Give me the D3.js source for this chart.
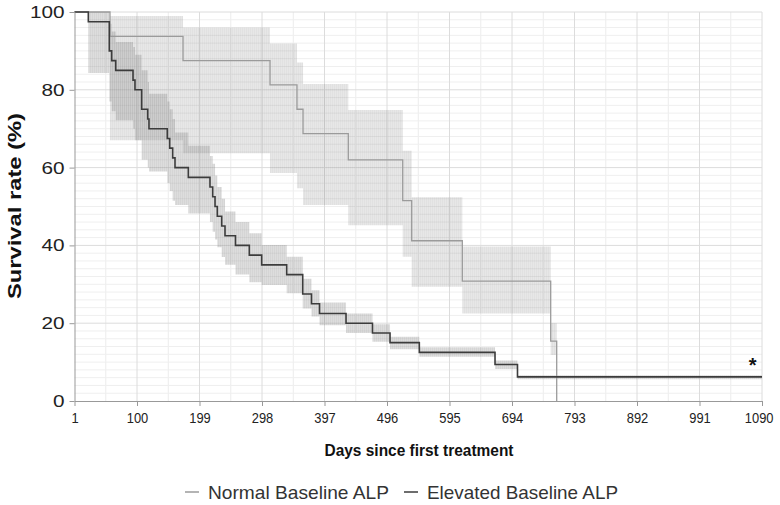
<!DOCTYPE html>
<html>
<head>
<meta charset="utf-8">
<script src="https://cdn.jsdelivr.net/npm/d3@7"></script>
<style>
  html, body { margin: 0; padding: 0; background: #fff; overflow: hidden; }
  svg { display: block; }
</style>
</head>
<body>
<svg id="chart" width="780" height="505"></svg>
<script>
// ---------------- data ----------------
const xTicks = [1, 100, 199, 298, 397, 496, 595, 694, 793, 892, 991, 1090];
const yTicks = [0, 20, 40, 60, 80, 100];

// Normal baseline ALP (Kaplan–Meier step curve + 95% CI)
const normalDays = [1, 57.2, 172.9, 310.7, 353.4, 363.0, 434.7, 520.9, 535.1, 615.3, 755.3, 764.8];
const normalSurv = [100, 93.75, 87.5, 81.25, 75, 68.75, 62, 51.5, 41.2, 30.8, 15.4, 0];
const normalLow  = [100, 67, 63.7, 58.6, 54.7, 50.4, 45.2, 37.1, 29.4, 22.5, 11.8, 0];
const normalUp   = [100, 99, 96, 91.9, 87, 81.5, 74.8, 64.3, 52.4, 39.7, 20, 0];

// Elevated baseline ALP
const elevDays = [1, 22.9, 56.1, 59.9, 66.3, 93.7, 96.8, 107.4, 117.0, 119.0, 148.0, 151.8, 156.5, 160.2, 181.3,
                  215.6, 219.9, 223.6, 227.2, 234.2, 239.4, 256.0, 277.9, 297.5, 337.1, 362.5, 376.4, 389.1, 431.1,
                  473.0, 500.8, 547.2, 667.1, 702.7, 1090];
const elevSurv = [100, 97.5, 90, 87.5, 85, 82.5, 80, 75, 72.5, 70, 67.5, 65, 62.5, 60, 57.5,
                  55, 52.5, 50, 47.5, 45, 42.5, 40, 37.5, 35, 32.5, 27.5, 25, 22.5, 20,
                  17.5, 15, 12.5, 9.4, 6.2, 6.2];
const elevLow  = [100, 84.3, 77, 74.5, 72.2, 70, 67, 62, 60, 59, 56, 54, 51.5, 50.4, 48.2,
                  46, 43.5, 41.5, 39.5, 37, 35, 32.5, 30.5, 29.8, 27.7, 23.8, 21.7, 19.5, 17.5,
                  15.2, 13.3, 11.4, 8.2, 5.6, 5.6];
const elevUp   = [100, 100, 97, 95, 92.3, 91, 89, 85, 82, 79, 77, 75, 72.5, 69, 65.6,
                  63, 61, 58, 55, 52, 48.7, 46, 43.1, 40.1, 37.1, 31.4, 28.5, 25.3, 22.5,
                  19.7, 16.5, 13.8, 10.4, 6.6, 6.6];

const seriesNames = ["Normal Baseline ALP", "Elevated Baseline ALP"];
const xTitle = "Days since first treatment";
const yTitle = "Survival rate (%)";
const annotation = "*";

// ---------------- layout ----------------
const FONT = "Liberation Sans, Arial, sans-serif";
const svg = d3.select("#chart");
const x = d3.scaleLinear().domain([1, 1090]).range([74.5, 762]);
const y = d3.scaleLinear().domain([0, 100]).range([401, 12]);

const toPts = (days, s, lo, up) => days.map((d, i) => ({d, s: s[i], lo: lo[i], up: up[i]}));
const normal = toPts(normalDays, normalSurv, normalLow, normalUp);
const elev = toPts(elevDays, elevSurv, elevLow, elevUp);

// hatch pattern (vertical stripes inside the confidence bands)
const defs = svg.append("defs");
function hatch(id, base, line) {
  const p = defs.append("pattern").attr("id", id).attr("patternUnits", "userSpaceOnUse")
    .attr("width", 2).attr("height", 10);
  p.append("rect").attr("width", 2).attr("height", 10).attr("fill", base);
  p.append("rect").attr("width", 0.7).attr("height", 10).attr("fill", line);
}
hatch("hN", "#999", "#777");
hatch("hE", "#999", "#777");

// ---------------- grid ----------------
const grid = svg.append("g");
const minorX = xTicks.slice(0, -1).map(t => t + 49.5);
const minorY = d3.range(2, 100, 2).filter(v => v % 20 !== 0);
grid.selectAll(".mx").data(minorX).join("line")
  .attr("x1", d => x(d)).attr("x2", d => x(d)).attr("y1", y(100)).attr("y2", y(0))
  .attr("stroke", "#ececec").attr("stroke-width", 1);
grid.selectAll(".my").data(minorY).join("line")
  .attr("x1", x(1)).attr("x2", x(1090)).attr("y1", d => y(d)).attr("y2", d => y(d))
  .attr("stroke", "#efefef").attr("stroke-width", 1);
grid.selectAll(".Mx").data(xTicks.slice(1)).join("line")
  .attr("x1", d => x(d)).attr("x2", d => x(d)).attr("y1", y(100)).attr("y2", y(0))
  .attr("stroke", "#dcdcdc").attr("stroke-width", 1);
grid.selectAll(".My").data(yTicks.slice(1)).join("line")
  .attr("x1", x(1)).attr("x2", x(1090)).attr("y1", d => y(d)).attr("y2", d => y(d))
  .attr("stroke", "#dcdcdc").attr("stroke-width", 1);

// ---------------- bands ----------------
const band = d3.area().curve(d3.curveStepAfter)
  .x(p => x(p.d)).y0(p => y(p.lo)).y1(p => y(p.up));
svg.append("path").datum(normal).attr("d", band)
  .attr("fill", "url(#hN)").attr("opacity", 0.24);
svg.append("path").datum(elev).attr("d", band)
  .attr("fill", "url(#hE)").attr("opacity", 0.33);

// ---------------- lines ----------------
const line = d3.line().curve(d3.curveStepAfter).x(p => x(p.d)).y(p => y(p.s));
svg.append("path").datum(normal).attr("d", line)
  .attr("fill", "none").attr("stroke", "#9b9b9b").attr("stroke-width", 1.3);
svg.append("path").datum(elev).attr("d", line)
  .attr("fill", "none").attr("stroke", "#3c3c3c").attr("stroke-width", 1.6);

// ---------------- axes ----------------
function stretch(sel, factor) {
  sel.each(function () {
    const w = this.getComputedTextLength();
    d3.select(this).attr("textLength", w * factor).attr("lengthAdjust", "spacingAndGlyphs");
  });
}

const xAxis = d3.axisBottom(x).tickValues(xTicks).tickFormat(d3.format("d"))
  .tickSize(5).tickSizeOuter(0).tickPadding(6);
const gx = svg.append("g").attr("transform", `translate(0,${y(0)})`).call(xAxis);
gx.select(".domain").attr("stroke", "#999");
gx.selectAll(".tick line").attr("stroke", "#999");
gx.selectAll("text").attr("font-family", FONT).attr("font-size", 15).attr("fill", "#222");
stretch(gx.selectAll("text"), 0.86);
// keep the last label fully inside the picture
gx.selectAll(".tick").filter(d => d === xTicks[xTicks.length - 1]).select("text")
  .attr("text-anchor", "end").attr("x", 11);

const yAxis = d3.axisLeft(y).tickValues(yTicks).tickSize(5).tickSizeOuter(0).tickPadding(5);
const gy = svg.append("g").attr("transform", `translate(${x(1)},0)`).call(yAxis);
gy.select(".domain").attr("stroke", "#999");
gy.selectAll(".tick line").attr("stroke", "#999");
gy.selectAll("text").attr("font-family", FONT).attr("font-size", 17).attr("fill", "#222");
stretch(gy.selectAll("text"), 1.22);

// titles
const xt = svg.append("text").attr("x", 419).attr("y", 456).attr("text-anchor", "middle")
  .attr("font-family", FONT).attr("font-weight", "bold")
  .attr("font-size", 17).attr("fill", "#111").text(xTitle);
xt.attr("textLength", 189).attr("lengthAdjust", "spacingAndGlyphs");
svg.append("text").attr("transform", "translate(21,206) rotate(-90)").attr("text-anchor", "middle")
  .attr("font-family", FONT).attr("font-weight", "bold")
  .attr("font-size", 19).attr("fill", "#111").text(yTitle)
  .attr("textLength", 186).attr("lengthAdjust", "spacingAndGlyphs");

// annotation
svg.append("text").attr("x", x(1075)).attr("y", y(7.5)).attr("text-anchor", "middle")
  .attr("font-family", FONT).attr("font-size", 20).attr("font-weight", "bold")
  .attr("fill", "#111").text(annotation);

// ---------------- legend ----------------
const legend = svg.append("g").attr("font-family", FONT)
  .attr("font-size", 19).attr("fill", "#333");
const legItems = [
  {name: seriesNames[0], color: "#9b9b9b", x0: 185, tx: 208, w: 181},
  {name: seriesNames[1], color: "#3c3c3c", x0: 404, tx: 427, w: 191}
];
legItems.forEach(it => {
  legend.append("line").attr("x1", it.x0).attr("x2", it.x0 + 14).attr("y1", 492).attr("y2", 492)
    .attr("stroke", it.color).attr("stroke-width", 1.5);
  legend.append("text").attr("x", it.tx).attr("y", 499).text(it.name)
    .attr("textLength", it.w).attr("lengthAdjust", "spacingAndGlyphs");
});
</script>
</body>
</html>
